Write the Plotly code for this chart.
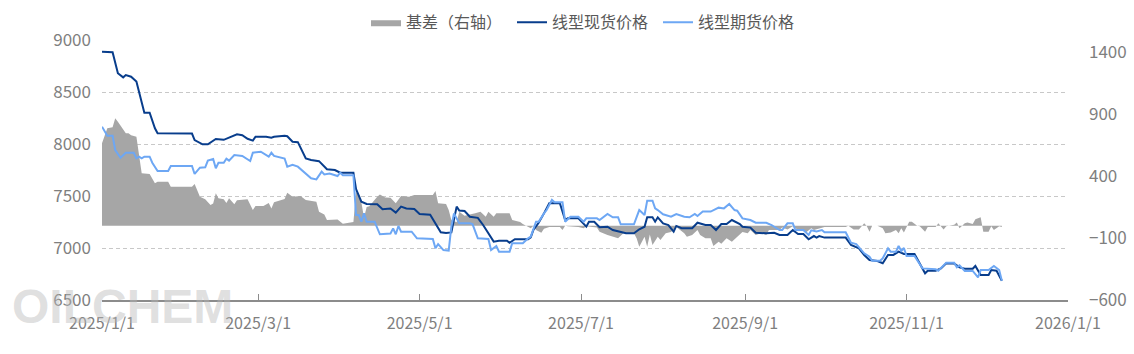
import plotly.graph_objects as go

# ---------------- data ----------------
spot_dates = [
    "2025-01-01", "2025-01-05", "2025-01-07", "2025-01-09", "2025-01-10", "2025-01-12", "2025-01-14",
    "2025-01-17", "2025-01-19", "2025-01-21", "2025-01-22", "2025-02-04", "2025-02-05", "2025-02-08",
    "2025-02-10", "2025-02-13", "2025-02-16", "2025-02-18", "2025-02-21", "2025-02-23", "2025-02-25",
    "2025-02-27", "2025-02-28", "2025-03-04", "2025-03-06", "2025-03-07", "2025-03-11", "2025-03-12",
    "2025-03-14", "2025-03-16", "2025-03-19", "2025-03-21", "2025-03-24", "2025-03-27", "2025-03-30",
    "2025-04-01", "2025-04-06", "2025-04-07", "2025-04-09", "2025-04-11", "2025-04-15", "2025-04-17",
    "2025-04-20", "2025-04-22", "2025-04-24", "2025-04-26", "2025-04-29", "2025-05-01", "2025-05-05",
    "2025-05-09", "2025-05-11", "2025-05-13", "2025-05-15", "2025-05-16", "2025-05-18", "2025-05-20",
    "2025-05-23", "2025-05-25", "2025-05-27", "2025-05-29", "2025-05-31", "2025-06-03", "2025-06-04",
    "2025-06-06", "2025-06-11", "2025-06-12", "2025-06-13", "2025-06-15", "2025-06-17", "2025-06-19",
    "2025-06-23", "2025-06-25", "2025-06-26", "2025-06-30", "2025-07-03", "2025-07-04", "2025-07-06",
    "2025-07-08", "2025-07-11", "2025-07-13", "2025-07-18", "2025-07-21", "2025-07-23", "2025-07-25",
    "2025-07-26", "2025-07-28", "2025-07-29", "2025-07-30", "2025-08-01", "2025-08-03", "2025-08-05",
    "2025-08-06", "2025-08-08", "2025-08-12", "2025-08-14", "2025-08-17", "2025-08-19", "2025-08-21",
    "2025-08-23", "2025-08-25", "2025-08-27", "2025-08-30", "2025-08-31", "2025-09-03", "2025-09-05",
    "2025-09-09", "2025-09-12", "2025-09-14", "2025-09-17", "2025-09-19", "2025-09-21", "2025-09-23",
    "2025-09-25", "2025-09-27", "2025-09-28", "2025-09-29", "2025-10-01", "2025-10-09", "2025-10-11",
    "2025-10-14", "2025-10-16", "2025-10-18", "2025-10-21", "2025-10-23", "2025-10-25", "2025-10-27",
    "2025-10-29", "2025-10-31", "2025-11-04", "2025-11-06", "2025-11-08", "2025-11-09", "2025-11-12",
    "2025-11-14", "2025-11-16", "2025-11-19", "2025-11-21", "2025-11-23", "2025-11-26", "2025-11-27",
    "2025-11-28", "2025-11-29", "2025-12-02", "2025-12-03", "2025-12-05", "2025-12-06", "2025-12-07",
]
spot_values = [
    8888, 8882, 8680, 8641, 8663, 8647, 8600,
    8301, 8301, 8151, 8103, 8100, 8038, 7997,
    7997, 8048, 8040, 8064, 8093, 8085, 8050,
    8032, 8070, 8070, 8060, 8070, 8080, 8075,
    8022, 8018, 7862, 7846, 7835, 7757, 7750,
    7724, 7724, 7565, 7445, 7423, 7420, 7372,
    7380, 7340, 7398, 7380, 7375, 7327, 7320,
    7151, 7145, 7150, 7398, 7360, 7355, 7301,
    7290, 7221, 7141, 7061, 7070, 7070, 7050,
    7084, 7084, 7102, 7173, 7243, 7333, 7430,
    7430, 7269, 7285, 7285, 7205, 7253, 7253,
    7199, 7205, 7173, 7141, 7141, 7180, 7205,
    7295, 7295, 7253, 7295, 7237, 7221, 7157,
    7212, 7190, 7190, 7243, 7221, 7221, 7173,
    7230, 7230, 7269, 7230, 7205, 7196, 7147,
    7141, 7147, 7125, 7125, 7173, 7134, 7134,
    7084, 7115, 7100, 7115, 7100, 7100, 7029,
    6997, 6933, 6885, 6875, 6853, 6933, 6933,
    6965, 6943, 6943, 6853, 6757, 6782, 6782,
    6804, 6853, 6850, 6814, 6800, 6800, 6827,
    6782, 6740, 6740, 6788, 6782, 6731, 6686,
]

fut_dates = [
    "2025-01-01", "2025-01-03", "2025-01-05", "2025-01-06", "2025-01-08", "2025-01-09", "2025-01-10",
    "2025-01-13", "2025-01-14", "2025-01-15", "2025-01-16", "2025-01-17", "2025-01-19", "2025-01-20",
    "2025-01-22", "2025-01-26", "2025-01-27", "2025-02-04", "2025-02-05", "2025-02-07", "2025-02-09",
    "2025-02-10", "2025-02-12", "2025-02-13", "2025-02-14", "2025-02-16", "2025-02-17", "2025-02-18",
    "2025-02-20", "2025-02-23", "2025-02-26", "2025-02-27", "2025-03-02", "2025-03-05", "2025-03-06",
    "2025-03-07", "2025-03-09", "2025-03-11", "2025-03-12", "2025-03-14", "2025-03-16", "2025-03-18",
    "2025-03-21", "2025-03-23", "2025-03-25", "2025-03-26", "2025-03-28", "2025-03-31", "2025-04-01",
    "2025-04-02", "2025-04-06", "2025-04-07", "2025-04-08", "2025-04-09", "2025-04-10", "2025-04-11",
    "2025-04-14", "2025-04-16", "2025-04-20", "2025-04-21", "2025-04-22", "2025-04-23", "2025-04-24",
    "2025-04-28", "2025-04-30", "2025-05-06", "2025-05-07", "2025-05-08", "2025-05-10", "2025-05-12",
    "2025-05-13", "2025-05-14", "2025-05-16", "2025-05-20", "2025-05-21", "2025-05-23", "2025-05-27",
    "2025-05-28", "2025-05-30", "2025-05-31", "2025-06-04", "2025-06-05", "2025-06-09", "2025-06-11",
    "2025-06-12", "2025-06-14", "2025-06-15", "2025-06-17", "2025-06-18", "2025-06-20", "2025-06-21",
    "2025-06-24", "2025-06-25", "2025-06-27", "2025-06-30", "2025-07-02", "2025-07-03", "2025-07-07",
    "2025-07-08", "2025-07-11", "2025-07-13", "2025-07-15", "2025-07-16", "2025-07-21", "2025-07-23",
    "2025-07-25", "2025-07-26", "2025-07-28", "2025-07-29", "2025-07-30", "2025-08-01", "2025-08-04",
    "2025-08-06", "2025-08-09", "2025-08-11", "2025-08-13", "2025-08-14", "2025-08-16", "2025-08-19",
    "2025-08-22", "2025-08-24", "2025-08-26", "2025-08-28", "2025-08-29", "2025-08-31", "2025-09-03",
    "2025-09-05", "2025-09-09", "2025-09-11", "2025-09-14", "2025-09-15", "2025-09-17", "2025-09-19",
    "2025-09-20", "2025-09-23", "2025-09-25", "2025-09-26", "2025-09-28", "2025-09-30", "2025-10-01",
    "2025-10-09", "2025-10-11", "2025-10-13", "2025-10-16", "2025-10-18", "2025-10-19", "2025-10-22",
    "2025-10-23", "2025-10-25", "2025-10-26", "2025-10-28", "2025-10-29", "2025-10-30", "2025-10-31",
    "2025-11-01", "2025-11-04", "2025-11-06", "2025-11-07", "2025-11-12", "2025-11-13", "2025-11-16",
    "2025-11-19", "2025-11-20", "2025-11-21", "2025-11-23", "2025-11-26", "2025-11-28", "2025-11-29",
    "2025-12-02", "2025-12-04", "2025-12-06", "2025-12-07",
]
fut_values = [
    8167, 8080, 8080, 7942, 7868, 7894, 7916,
    7916, 7862, 7878, 7862, 7878, 7878, 7820,
    7740, 7740, 7788, 7788, 7712, 7772, 7776,
    7840, 7855, 7766, 7820, 7820, 7859, 7840,
    7894, 7885, 7836, 7916, 7926, 7878, 7916,
    7885, 7872, 7860, 7782, 7800, 7782, 7734,
    7670, 7660, 7734, 7708, 7717, 7692, 7724,
    7700, 7700, 7317, 7317, 7253, 7333, 7253,
    7253, 7132, 7140, 7189, 7132, 7212, 7157,
    7157, 7093, 7087, 6997, 7038, 6980, 6975,
    7205, 7333, 7237, 7237, 7230, 7093, 7087,
    6980, 7019, 6965, 6965, 7045, 7045, 7093,
    7109, 7253, 7253, 7333, 7365, 7462, 7440,
    7440, 7253, 7301, 7301, 7253, 7285, 7285,
    7269, 7327, 7295, 7295, 7228, 7228, 7365,
    7317, 7455, 7455, 7381, 7365, 7324, 7301,
    7327, 7301, 7295, 7327, 7308, 7350, 7350,
    7388, 7381, 7423, 7365, 7359, 7285, 7269,
    7243, 7243, 7221, 7173, 7173, 7237, 7237,
    7173, 7173, 7125, 7170, 7160, 7173, 7151,
    7151, 7051, 7038, 6949, 6917, 6878, 6878,
    6901, 6997, 6965, 6965, 7019, 6971, 7000,
    6923, 6923, 6846, 6804, 6795, 6782, 6859,
    6859, 6814, 6833, 6779, 6779, 6718, 6788,
    6788, 6827, 6788, 6686,
]

basis_dates = [
    "2025-01-01", "2025-01-03", "2025-01-05", "2025-01-06", "2025-01-07", "2025-01-09", "2025-01-10",
    "2025-01-11", "2025-01-12", "2025-01-14", "2025-01-16", "2025-01-19", "2025-01-21", "2025-01-22",
    "2025-01-26", "2025-01-27", "2025-02-04", "2025-02-05", "2025-02-07", "2025-02-09", "2025-02-11",
    "2025-02-12", "2025-02-13", "2025-02-14", "2025-02-16", "2025-02-17", "2025-02-18", "2025-02-20",
    "2025-02-21", "2025-02-25", "2025-02-27", "2025-02-28", "2025-03-03", "2025-03-05", "2025-03-06",
    "2025-03-07", "2025-03-09", "2025-03-11", "2025-03-12", "2025-03-14", "2025-03-17", "2025-03-19",
    "2025-03-23", "2025-03-24", "2025-03-26", "2025-03-27", "2025-03-31", "2025-04-02", "2025-04-06",
    "2025-04-07", "2025-04-09", "2025-04-10", "2025-04-11", "2025-04-12", "2025-04-15", "2025-04-16",
    "2025-04-18", "2025-04-20", "2025-04-22", "2025-04-24", "2025-04-27", "2025-04-29", "2025-05-06",
    "2025-05-07", "2025-05-08", "2025-05-11", "2025-05-12", "2025-05-13", "2025-05-15", "2025-05-16",
    "2025-05-18", "2025-05-20", "2025-05-22", "2025-05-24", "2025-05-26", "2025-05-27", "2025-05-29",
    "2025-05-30", "2025-06-04", "2025-06-05", "2025-06-08", "2025-06-09", "2025-06-11", "2025-06-12",
    "2025-06-13", "2025-06-14", "2025-06-16", "2025-06-17", "2025-06-19", "2025-06-23", "2025-06-24",
    "2025-06-25", "2025-06-26", "2025-06-30", "2025-07-02", "2025-07-03", "2025-07-07", "2025-07-08",
    "2025-07-11", "2025-07-13", "2025-07-15", "2025-07-17", "2025-07-21", "2025-07-22", "2025-07-23",
    "2025-07-25", "2025-07-26", "2025-07-27", "2025-07-28", "2025-07-30", "2025-07-31", "2025-08-02",
    "2025-08-04", "2025-08-06", "2025-08-09", "2025-08-10", "2025-08-12", "2025-08-14", "2025-08-15",
    "2025-08-17", "2025-08-19", "2025-08-20", "2025-08-22", "2025-08-23", "2025-08-25", "2025-08-27",
    "2025-08-29", "2025-08-31", "2025-09-02", "2025-09-03", "2025-09-05", "2025-09-07", "2025-09-09",
    "2025-09-10", "2025-09-14", "2025-09-15", "2025-09-17", "2025-09-19", "2025-09-21", "2025-09-23",
    "2025-09-24", "2025-09-26", "2025-09-27", "2025-09-29", "2025-10-01", "2025-10-09", "2025-10-10",
    "2025-10-12", "2025-10-14", "2025-10-16", "2025-10-17", "2025-10-18", "2025-10-19", "2025-10-21",
    "2025-10-23", "2025-10-24", "2025-10-26", "2025-10-28", "2025-10-29", "2025-10-30", "2025-10-31",
    "2025-11-02", "2025-11-03", "2025-11-05", "2025-11-06", "2025-11-08", "2025-11-09", "2025-11-12",
    "2025-11-13", "2025-11-15", "2025-11-16", "2025-11-19", "2025-11-20", "2025-11-21", "2025-11-23",
    "2025-11-24", "2025-11-26", "2025-11-27", "2025-11-29", "2025-11-30", "2025-12-02", "2025-12-03",
    "2025-12-04", "2025-12-06", "2025-12-07",
]
basis_values = [
    666, 787, 795, 868, 840, 773, 746,
    746, 730, 719, 423, 418, 343, 356,
    356, 315, 315, 337, 234, 213, 167,
    180, 262, 221, 213, 183, 221, 173,
    205, 213, 127, 160, 160, 183, 140,
    190, 200, 216, 267, 234, 240, 208,
    194, 113, 90, 46, 50, 16, 30,
    275, 190, 65, 152, 158, 234, 252,
    228, 226, 181, 240, 234, 248, 248,
    280, 181, 175, 127, 46, 28, 113,
    80, 87, 100, 113, 73, 113, 73,
    100, 100, 46, 30, 14, -8, -21,
    0, -35, -56, -25, -10, -10, -35,
    0, -5, -10, -21, -5, -15, -48,
    -75, -89, -102, -61, -61, -102, -170,
    -89, -170, -70, -156, -89, -115, -61,
    -50, -10, -61, -89, -75, -35, -75,
    -102, -102, -164, -130, -145, -102, -130,
    -89, -50, -61, -35, -75, -61, -75,
    -35, -35, -15, -30, -5, -35, -35,
    -55, -20, -35, -20, -10, -10, 0,
    -30, -30, 20, -5, -48, 0, 0,
    -20, -61, -55, -35, -61, -20, -55,
    32, 32, 0, -5, -48, -10, -10,
    20, -30, -5, 8, 25, -20, 20,
    25, 13, 52, 68, -48, -48, -5,
    -35, -5, -10,
]

x_tick_dates = ["2025-01-01", "2025-03-01", "2025-05-01", "2025-07-01",
                "2025-09-01", "2025-11-01", "2026-01-01"]
x_tick_labels = ["2025/1/1", "2025/3/1", "2025/5/1", "2025/7/1",
                 "2025/9/1", "2025/11/1", "2026/1/1"]
left_ticks = [6500, 7000, 7500, 8000, 8500, 9000]
right_ticks = [-600, -100, 400, 900, 1400]

names = ["基差（右轴）", "线型现货价格", "线型期货价格"]

# ---------------- figure ----------------
FONT = "Noto Sans CJK SC, Noto Sans, sans-serif"
TICK_COLOR = "#7f7f7f"

fig = go.Figure()

fig.add_trace(go.Scatter(
    x=basis_dates, y=basis_values, name=names[0], mode="lines",
    line=dict(width=0, color="#A6A6A6"), fill="tozeroy", fillcolor="#A6A6A6",
    yaxis="y",
))
fig.add_trace(go.Scatter(
    x=spot_dates, y=spot_values, name=names[1], mode="lines",
    line=dict(width=2, color="#083D8C"), yaxis="y2",
))
fig.add_trace(go.Scatter(
    x=fut_dates, y=fut_values, name=names[2], mode="lines",
    line=dict(width=2, color="#6DA7F4"), yaxis="y2",
))

fig.update_layout(
    width=1134, height=354,
    margin=dict(l=102, r=66, t=40, b=54, autoexpand=False),
    paper_bgcolor="white", plot_bgcolor="white",
    font=dict(family=FONT, color=TICK_COLOR, size=15),
    showlegend=True,
    legend=dict(
        orientation="h", x=0.5, xanchor="center",
        yref="container", y=0.985, yanchor="top",
        font=dict(family=FONT, size=16, color="#595959"),
        traceorder="normal", itemwidth=30, entrywidth=101,
        bgcolor="rgba(0,0,0,0)",
    ),
    xaxis=dict(
        type="date", range=["2025-01-01", "2026-01-01"],
        tickvals=x_tick_dates, ticktext=x_tick_labels,
        showgrid=False, showline=True, linecolor="#8c8c8c", linewidth=1.5,
        ticks="inside", ticklen=6, tickcolor="#8c8c8c",
        tickfont=dict(family=FONT, size=16, color=TICK_COLOR),
        ticklabelstandoff=8,
        zeroline=False, automargin=False,
    ),
    yaxis=dict(
        side="right", range=[-600, 1500], tickvals=right_ticks,
        showgrid=False, zeroline=False, showline=False,
        tickfont=dict(family=FONT, size=17, color=TICK_COLOR),
        ticklabelstandoff=20, automargin=False,
    ),
    yaxis2=dict(
        side="left", overlaying="y", range=[6500, 9000], tickvals=left_ticks,
        showgrid=True, gridcolor="#c8c8c8", gridwidth=1, griddash="4px,3px",
        zeroline=False, showline=False,
        tickfont=dict(family=FONT, size=17, color=TICK_COLOR),
        ticklabelstandoff=10, automargin=False,
    ),
)

# watermark
fig.add_annotation(
    text="<b>OILCHEM</b>", xref="paper", yref="paper", x=0.021, y=-0.025,
    xanchor="center", yanchor="middle", showarrow=False,
    font=dict(family="Liberation Sans", size=48, color="rgba(185,185,185,0.45)"),
)

fig.write_html("out.html")
